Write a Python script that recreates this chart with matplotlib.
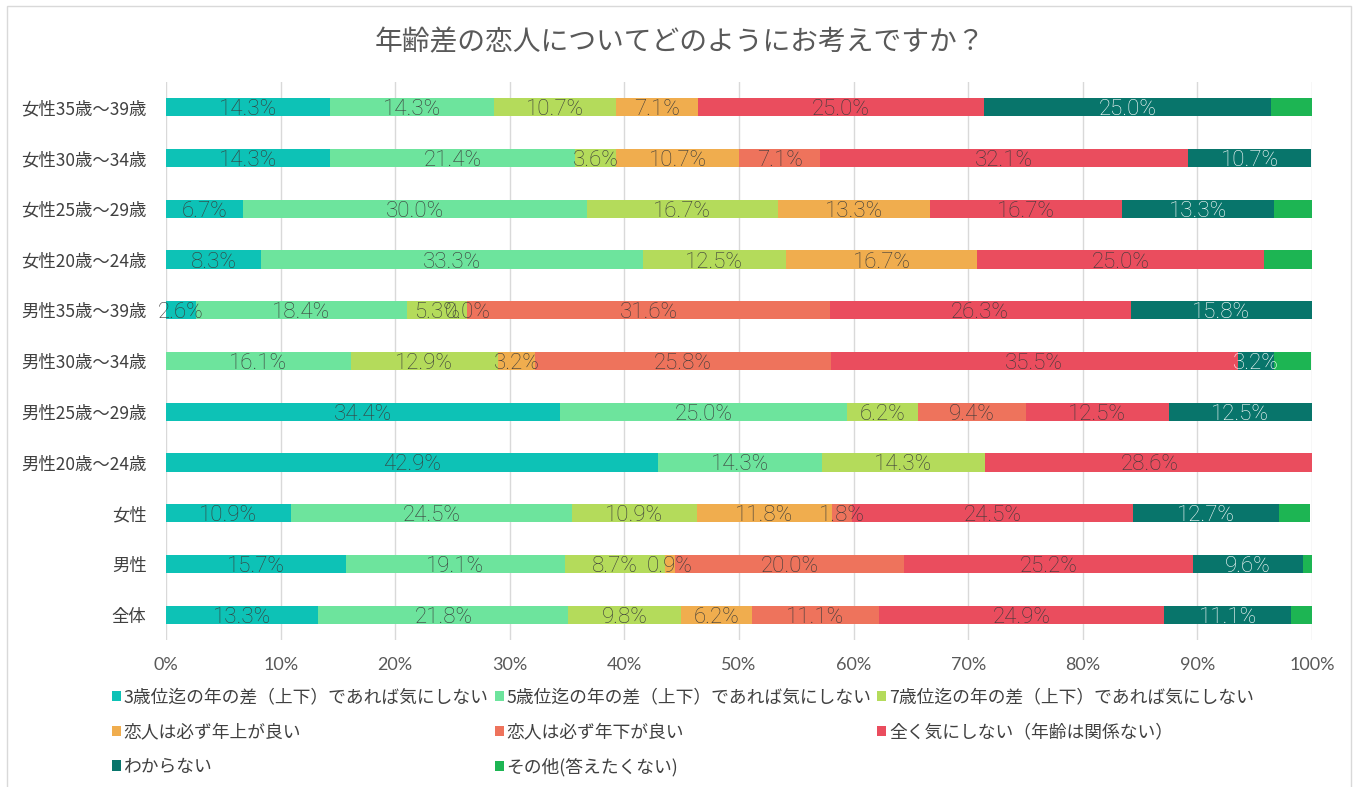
import numpy as np
import matplotlib
matplotlib.use("Agg")
import matplotlib.pyplot as plt
from matplotlib.patches import Rectangle

plt.rcParams['font.family'] = ['Noto Sans CJK JP', 'DejaVu Sans']

title = "年齢差の恋人についてどのようにお考えですか？"

categories = ["女性35歳～39歳", "女性30歳～34歳", "女性25歳～29歳", "女性20歳～24歳",
              "男性35歳～39歳", "男性30歳～34歳", "男性25歳～29歳", "男性20歳～24歳",
              "女性", "男性", "全体"]

series_names = ["3歳位迄の年の差（上下）であれば気にしない",
                "5歳位迄の年の差（上下）であれば気にしない",
                "7歳位迄の年の差（上下）であれば気にしない",
                "恋人は必ず年上が良い",
                "恋人は必ず年下が良い",
                "全く気にしない（年齢は関係ない）",
                "わからない",
                "その他(答えたくない)"]

nan = np.nan
s_3yr   = [14.3, 14.3, 6.7, 8.3, 2.6, nan, 34.4, 42.9, 10.9, 15.7, 13.3]
s_5yr   = [14.3, 21.4, 30.0, 33.3, 18.4, 16.1, 25.0, 14.3, 24.5, 19.1, 21.8]
s_7yr   = [10.7, 3.6, 16.7, 12.5, 5.3, 12.9, 6.2, 14.3, 10.9, 8.7, 9.8]
s_older = [7.1, 10.7, 13.3, 16.7, 0.0, 3.2, nan, nan, 11.8, 0.9, 6.2]
s_young = [nan, 7.1, nan, nan, 31.6, 25.8, 9.4, nan, 1.8, 20.0, 11.1]
s_any   = [25.0, 32.1, 16.7, 25.0, 26.3, 35.5, 12.5, 28.6, 24.5, 25.2, 24.9]
s_dk    = [25.0, 10.7, 13.3, nan, 15.8, 3.2, 12.5, nan, 12.7, 9.6, 11.1]
s_other = [3.6, nan, 3.3, 4.2, nan, 3.2, nan, nan, 2.7, 0.9, 1.8]

series = [s_3yr, s_5yr, s_7yr, s_older, s_young, s_any, s_dk, s_other]
colors = ["#0DC2B6", "#6DE49D", "#B4DB5B", "#F0AD4E", "#EE735C", "#EA4D5E", "#08756B", "#1DB553"]
label_colors = ["#3A3A3A"] * 6 + ["white", None]

W, H = 1359, 787
fig = plt.figure(figsize=(W / 100, H / 100), dpi=100)
fig.patches.append(Rectangle((7 / W, -0.01), (1351 - 7) / W, 1 - 6 / H + 0.01,
                             transform=fig.transFigure, fill=False,
                             edgecolor="#D9D9D9", linewidth=1.0))

ax = fig.add_axes([166 / W, 1 - 640 / H, (1312 - 166) / W, (640 - 82) / H])

n = len(categories)
y = np.arange(n)
left = np.zeros(n)
num_font = ['Roboto', 'DejaVu Sans']
for vals, col, lc, name in zip(series, colors, label_colors, series_names):
    v = np.array(vals, dtype=float)
    w = np.nan_to_num(v) / 100.0
    ax.barh(y, w, left=left, height=0.36, color=col, label=name, zorder=2)
    if lc is not None:
        for i in range(n):
            if not np.isnan(v[i]):
                ax.text(left[i] + w[i] / 2, y[i] + 0.05, f"{v[i]:.1f}%", ha="center", va="center",
                        fontsize=16, color=lc, family=num_font, fontweight='light', zorder=3)
    left += w

ax.set_ylim(n - 0.5, -0.5)
ax.set_xlim(0, 1)
ax.set_yticks(y)
ax.set_yticklabels(categories, fontsize=12.5, color="#404040")
ax.set_xticks(np.linspace(0, 1, 11))
ax.set_xticklabels([f"{int(t)}%" for t in np.linspace(0, 100, 11)],
                   fontsize=13, color="#595959", family=['Lato', 'DejaVu Sans'])
ax.tick_params(axis='both', length=0)
ax.tick_params(axis='x', pad=12)
ax.tick_params(axis='y', pad=14)
ax.grid(axis='x', color="#D9D9D9", linewidth=1, zorder=0)
for sp in ax.spines.values():
    sp.set_visible(False)

fig.text(0.5, 1 - 42 / H, title, ha="center", va="center", fontsize=20, color="#595959")

handles, labels = ax.get_legend_handles_labels()
order = [0, 3, 6, 1, 4, 7, 2, 5]
leg = fig.legend([handles[i] for i in order], [labels[i] for i in order],
                 ncol=3, loc="upper left", bbox_to_anchor=(112 / W, 1 - 688 / H),
                 frameon=False, fontsize=12.8, handlelength=0.5, handleheight=0.5,
                 handletextpad=0.15, columnspacing=0.35, labelspacing=0.95,
                 borderaxespad=0, borderpad=0)
for t in leg.get_texts():
    t.set_color("#404040")

fig.savefig("out.png", dpi=100)
